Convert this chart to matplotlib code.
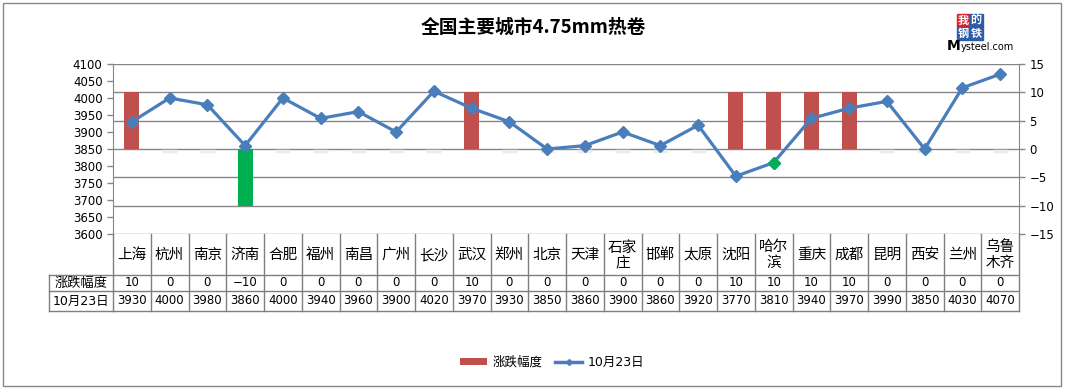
import matplotlib
matplotlib.use('Agg')
import matplotlib.pyplot as plt
from matplotlib.lines import Line2D
from matplotlib.patches import Patch, Rectangle
import matplotlib.transforms as mtransforms

plt.rcParams['font.family'] = ['DejaVu Sans', 'Noto Sans CJK SC']

# data
cities = ['上海', '杭州', '南京', '济南', '合肥', '福州', '南昌', '广州', '长沙', '武汉',
          '郑州', '北京', '天津', '石家\n庄', '邯郸', '太原', '沈阳', '哈尔\n滨', '重庆',
          '成都', '昆明', '西安', '兰州', '乌鲁\n木齐']
change = [10, 0, 0, -10, 0, 0, 0, 0, 0, 10, 0, 0, 0, 0, 0, 0, 10, 10, 10, 10, 0, 0, 0, 0]
price = [3930, 4000, 3980, 3860, 4000, 3940, 3960, 3900, 4020, 3970, 3930, 3850, 3860,
         3900, 3860, 3920, 3770, 3810, 3940, 3970, 3990, 3850, 4030, 4070]
change_label = '涨跌幅度'
price_label = '10月23日'
title = '全国主要城市4.75mm热卷'
highlight_city = '哈尔\n滨'

W, H = 1066, 390
fig = plt.figure(figsize=(W / 100, H / 100), dpi=100)

# outer chart frame
fig.patches.append(Rectangle((3 / W, 1 - 386 / H), 1058 / W, 383 / H, transform=fig.transFigure,
                             fill=False, edgecolor='#888888', lw=1))

ax_l, ax_r, ax_t, ax_b = 113, 1019, 64, 234
ax = fig.add_axes([ax_l / W, 1 - ax_b / H, (ax_r - ax_l) / W, (ax_b - ax_t) / H])
ax2 = ax.twinx()
ax.set_zorder(ax2.get_zorder() + 1)
ax.patch.set_visible(False)

x = list(range(len(cities)))
grid_c = '#868686'

# bars (secondary axis)
bar_colors = ['#C0504D' if v >= 0 else '#00B050' for v in change]
ax2.bar(x, change, width=0.4, color=bar_colors, zorder=3)
for i, v in enumerate(change):
    if v == 0:
        ax2.plot([i - 0.2, i + 0.2], [-0.3, -0.3], color='#ececec', lw=2.5, zorder=2,
                 solid_capstyle='butt')
ax2.set_ylim(-15, 15)
ax2.set_yticks(range(-15, 16, 5))
ax2.set_yticklabels([('−' + str(-t)) if t < 0 else str(t) for t in range(-15, 16, 5)])
for t in range(-15, 16, 5):
    ax2.axhline(t, color=grid_c, lw=1, zorder=1)

# line (primary axis)
ax.plot(x, price, color='#4A7EBB', lw=2.3, marker='D', markersize=6.5, zorder=4)
hi = cities.index(highlight_city)
ax.plot([hi], [price[hi]], linestyle='none', marker='D', markersize=6.5,
        color='#00B050', zorder=5)
ax.set_ylim(3600, 4100)
ax.set_yticks(range(3600, 4101, 50))
ax.set_xlim(-0.5, len(cities) - 0.5)
ax.set_xticks([])
ax2.set_xticks([])

for a in (ax, ax2):
    for s in ('top', 'bottom'):
        a.spines[s].set_visible(False)
    a.spines['left'].set_color(grid_c)
    a.spines['right'].set_color(grid_c)
    a.tick_params(axis='y', colors=grid_c, labelcolor='black', labelsize=8.5, length=4, width=1)
ax.spines['right'].set_visible(False)
ax2.spines['left'].set_visible(False)

# data table below the plot
trans = mtransforms.blended_transform_factory(ax.transData, ax.transAxes)
ph = ax_b - ax_t
y_city = -(275 - ax_b) / ph
y_r1 = -(291 - ax_b) / ph
y_r2 = -(311 - ax_b) / ph
lc = '#7f7f7f'
for i in range(len(cities) + 1):
    ax.plot([i - 0.5, i - 0.5], [0, y_r2], transform=trans, color=lc, lw=1, clip_on=False)
for yy in (y_city, y_r1, y_r2):
    ax.plot([-0.5, len(cities) - 0.5], [yy, yy], transform=trans, color=lc, lw=1, clip_on=False)
for i, c in enumerate(cities):
    ax.text(i, y_city / 2, c, transform=trans, ha='center', va='center', fontsize=10.5,
            linespacing=1.0)
    ax.text(i, (y_city + y_r1) / 2, '−10' if change[i] < 0 else str(change[i]), transform=trans,
            ha='center', va='center', fontsize=8.5)
    ax.text(i, (y_r1 + y_r2) / 2, str(price[i]), transform=trans,
            ha='center', va='center', fontsize=8.5)

# header column of the table
hx0 = (49 - ax_l) / (ax_r - ax_l)
for yy in (y_city, y_r1, y_r2):
    ax.plot([hx0, 0], [yy, yy], transform=ax.transAxes, color=lc, lw=1, clip_on=False)
ax.plot([hx0, hx0], [y_city, y_r2], transform=ax.transAxes, color=lc, lw=1, clip_on=False)
ax.text(hx0 / 2, (y_city + y_r1) / 2, change_label, transform=ax.transAxes,
        ha='center', va='center', fontsize=9.5)
ax.text(hx0 / 2, (y_r1 + y_r2) / 2, price_label, transform=ax.transAxes,
        ha='center', va='center', fontsize=9)

# title
fig.text(533 / W, 1 - 27 / H, title, ha='center', va='center', fontsize=13.5,
         fontweight='bold', family=['Noto Sans CJK SC', 'DejaVu Sans'])

# logo
logo = [('我', 957, 14, '#E0202A'), ('的', 970, 14, '#2B5DA8'),
        ('钢', 957, 27, '#2B5DA8'), ('铁', 970, 27, '#2B5DA8')]
for ch, lx, ly, col in logo:
    fig.patches.append(Rectangle((lx / W, 1 - (ly + 12.5) / H), 12.5 / W, 12.5 / H,
                                 transform=fig.transFigure, color=col))
    fig.text((lx + 6.25) / W, 1 - (ly + 6.5) / H, ch, color='white', ha='center', va='center',
             fontsize=8, fontweight='bold', family=['Noto Sans CJK SC'])
fig.text(947 / W, 1 - 46 / H, 'M', fontsize=10, fontweight='bold', ha='left', va='center')
fig.text(961 / W, 1 - 47 / H, 'ysteel.com', fontsize=7, ha='left', va='center')

# legend
handles = [Patch(facecolor='#C0504D', edgecolor='none'),
           Line2D([], [], color='#4A7EBB', lw=2.5, marker='D', markersize=3)]
fig.legend(handles, [change_label, price_label], loc='center', bbox_to_anchor=(552 / W, 1 - 362 / H),
           ncol=2, frameon=False, fontsize=9, handlelength=2.2, handleheight=0.5,
           columnspacing=1.0, handletextpad=0.4)

fig.savefig('out.png', dpi=100)
